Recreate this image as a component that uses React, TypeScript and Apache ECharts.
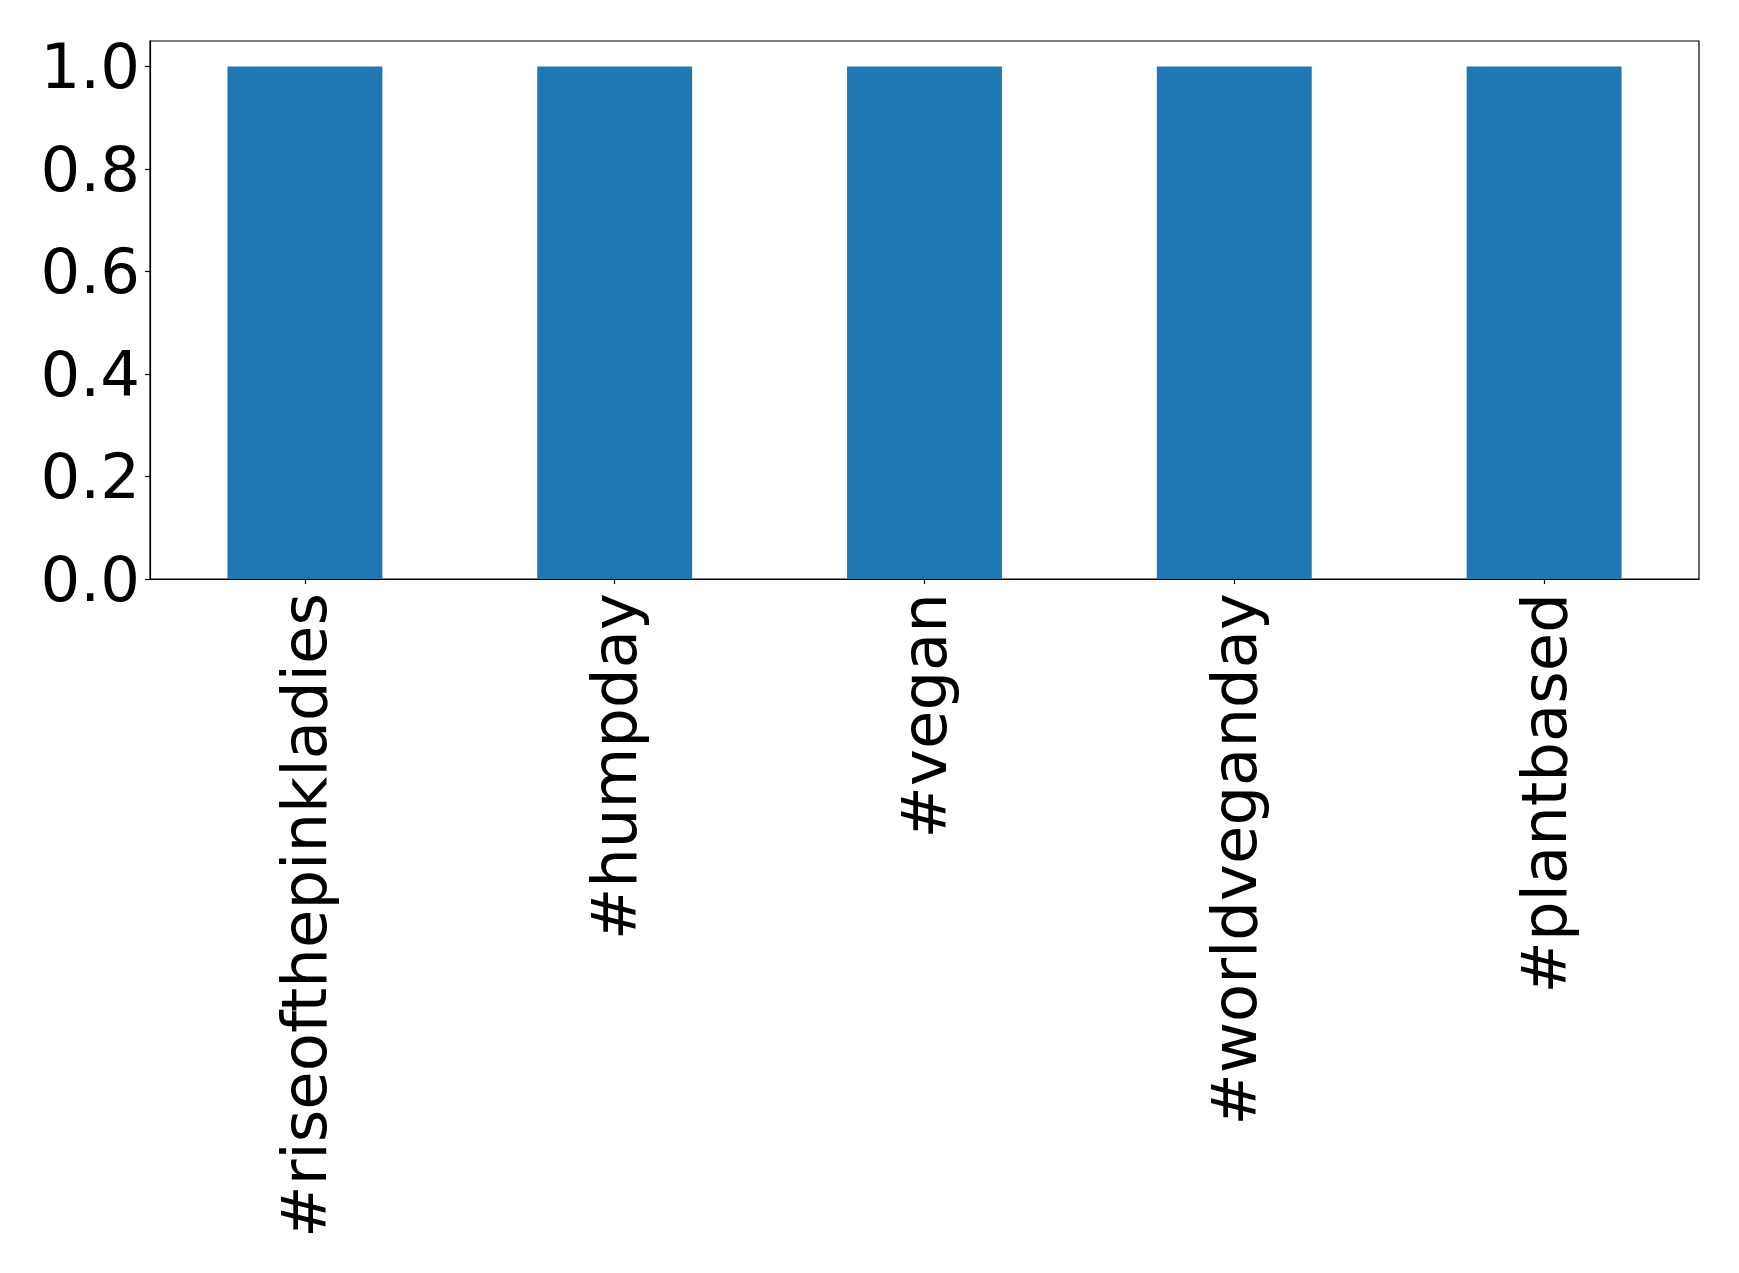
import React, { useEffect, useRef } from "react";
import * as echarts from "echarts";

const categories = ["#riseofthepinkladies", "#humpday", "#vegan", "#worldveganday", "#plantbased"];
const values = [1.0, 1.0, 1.0, 1.0, 1.0];
const yTicks = [0, 0.2, 0.4, 0.6, 0.8, 1.0];

const FONT = "DejaVu Sans";

export default function App() {
  const ref = useRef<HTMLDivElement>(null);

  useEffect(() => {
    if (!ref.current) return;
    const chart = echarts.init(ref.current, null, { renderer: "svg" });
    chart.setOption({
      animation: false,
      backgroundColor: "#ffffff",
      grid: {
        left: 150,
        top: 41,
        right: 40,
        bottom: 694,
        show: true,
        borderColor: "#000000",
        borderWidth: 1.2,
        containLabel: false,
      },
      xAxis: {
        type: "category",
        data: categories,
        boundaryGap: true,
        axisLine: { show: true, lineStyle: { color: "#000000", width: 1.2 } },
        axisTick: { show: true, alignWithLabel: true, length: 5, lineStyle: { color: "#000000", width: 1.2 } },
        axisLabel: {
          rotate: 90,
          margin: 14,
          interval: 0,
          fontFamily: FONT,
          fontSize: 62.5,
          color: "#000000",
        },
        splitLine: { show: false },
      },
      yAxis: {
        type: "value",
        min: 0,
        max: 1.05,
        interval: 0.2,
        axisLine: { show: true, lineStyle: { color: "#000000", width: 1.2 } },
        axisTick: {
          show: true,
          length: 5,
          lineStyle: { color: "#000000", width: 1.2 },
          customValues: yTicks,
        },
        axisLabel: {
          margin: 10,
          fontFamily: FONT,
          fontSize: 62.5,
          color: "#000000",
          customValues: yTicks,
          formatter: (v: number) => v.toFixed(1),
        },
        splitLine: { show: false },
      },
      series: [
        {
          type: "bar",
          data: values,
          barWidth: "50%",
          itemStyle: { color: "#1f77b4" },
        },
      ],
    });
    return () => chart.dispose();
  }, []);

  return (
    <div
      ref={ref}
      style={{ position: "absolute", left: 0, top: 0, width: 1739, height: 1273 }}
    />
  );
}
